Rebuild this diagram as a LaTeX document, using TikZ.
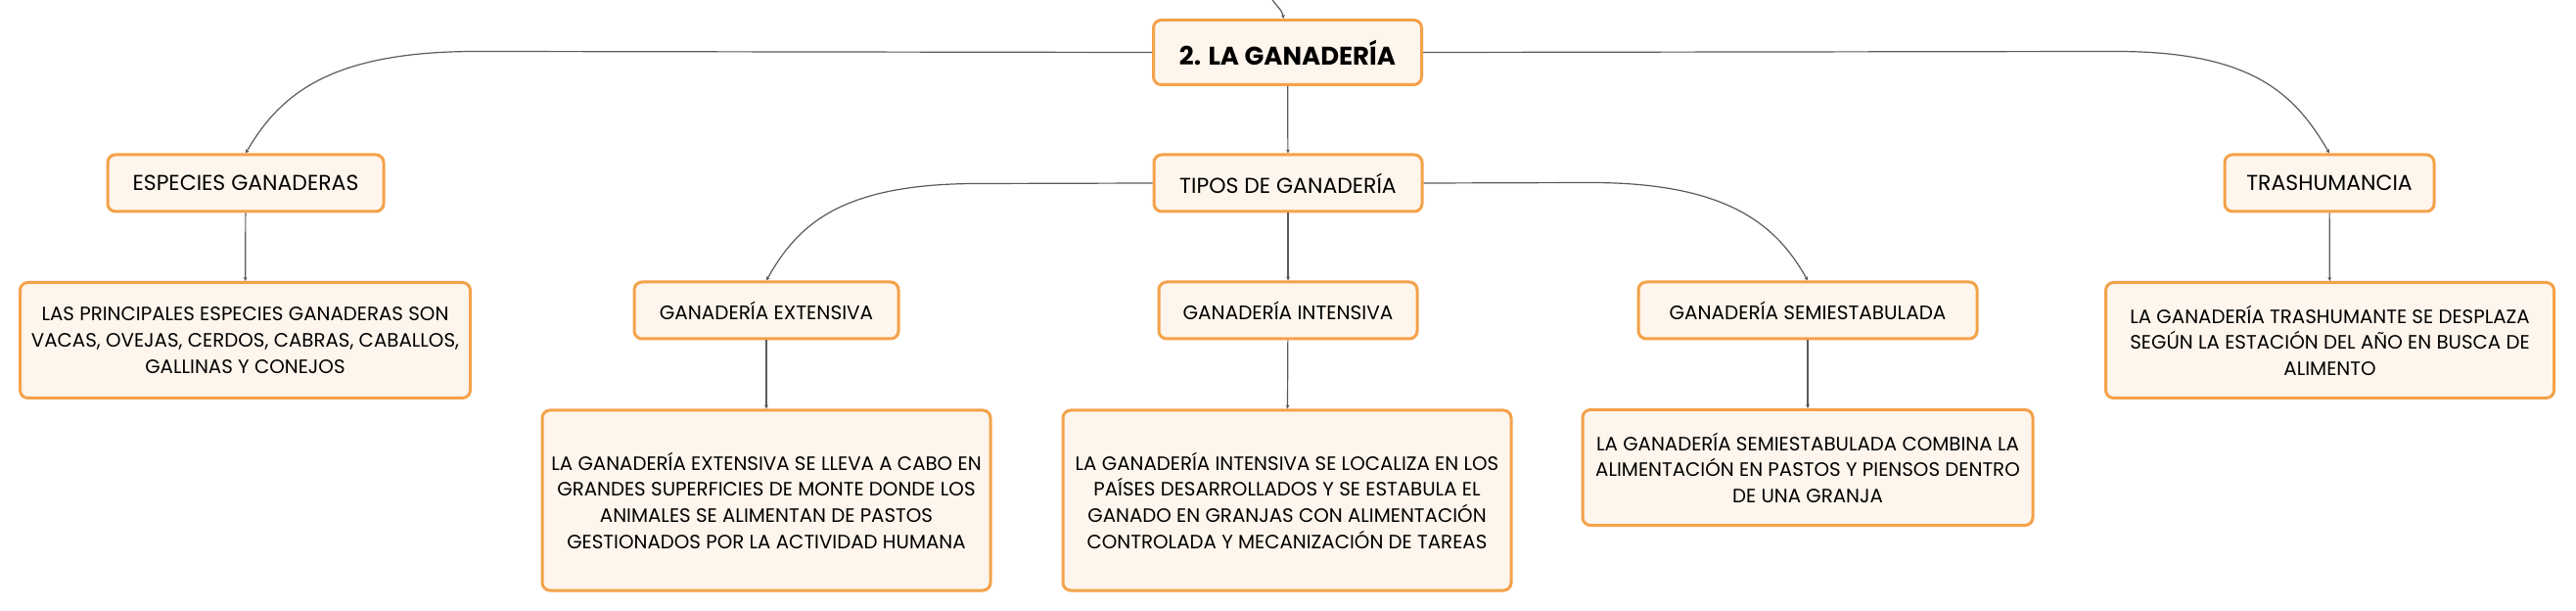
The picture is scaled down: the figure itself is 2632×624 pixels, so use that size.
\documentclass[tikz,border=0pt]{standalone}
\usepackage{fontspec}
\setmainfont{Poppins}
\usepackage{xcolor}
\usepackage{tikz}
\usetikzlibrary{arrows.meta,positioning,calc}

\definecolor{boxline}{HTML}{F4A24A}
\definecolor{boxfill}{HTML}{FEF5EC}
\definecolor{linkgray}{HTML}{5A5A5A}

\begin{document}
\begin{tikzpicture}[x=0.5pt,y=-0.5pt,
  topic/.style={draw=boxline,fill=boxfill,line width=1.5pt,rounded corners=4pt,
    inner sep=2pt,align=center,font=\fontsize{11}{13}\selectfont},
  note/.style={topic,font=\fontsize{9.9}{13.3}\selectfont},
  link/.style={draw=linkgray,line width=0.6pt,-{Stealth[length=2pt,width=2pt]}}]
  \useasboundingbox (0,0) rectangle (2632,624);
  % main topic
  \node [topic,minimum width=137pt,minimum height=33pt,
         font=\fontsize{13}{15}\selectfont\bfseries] (root) at (1315.5,53.5) {2. LA GANADERÍA};
  \coordinate (up) at (1298,-4);
  \draw [link] (up) to[out=-65,in=100] ([xshift=-2pt]root.north);
  % second level
  \node [topic,minimum width=141pt,minimum height=29pt] (esp)   at (251,187)  {ESPECIES GANADERAS};
  \node [topic,minimum width=137pt,minimum height=29pt] (tipos) at (1316,187) {TIPOS DE GANADERÍA};
  \node [topic,minimum width=107pt,minimum height=29pt] (trash) at (2380,187) {TRASHUMANCIA};
  % types
  \node [topic,minimum width=135pt,minimum height=29pt,font=\fontsize{10}{12}\selectfont] (ext)  at (783,317)  {GANADERÍA EXTENSIVA};
  \node [topic,minimum width=132pt,minimum height=29pt,font=\fontsize{10}{12}\selectfont] (int)  at (1316,317) {GANADERÍA INTENSIVA};
  \node [topic,minimum width=173pt,minimum height=29pt,font=\fontsize{10}{12}\selectfont] (semi) at (1847,317) {GANADERÍA SEMIESTABULADA};
  % notes
  \node [note,minimum width=230pt,minimum height=59pt] (espd) at (250.5,347.5)
    {LAS PRINCIPALES ESPECIES GANADERAS SON\\VACAS, OVEJAS, CERDOS, CABRAS, CABALLOS,\\GALLINAS Y CONEJOS};
  \node [note,minimum width=229pt,minimum height=92pt] (extd) at (783,511)
    {LA GANADERÍA EXTENSIVA SE LLEVA A CABO EN\\GRANDES SUPERFICIES DE MONTE DONDE LOS\\ANIMALES SE ALIMENTAN DE PASTOS\\GESTIONADOS POR LA ACTIVIDAD HUMANA};
  \node [note,minimum width=229pt,minimum height=92pt] (intd) at (1315,511)
    {LA GANADERÍA INTENSIVA SE LOCALIZA EN LOS\\PAÍSES DESARROLLADOS Y SE ESTABULA EL\\GANADO EN GRANJAS CON ALIMENTACIÓN\\CONTROLADA Y MECANIZACIÓN DE TAREAS};
  \node [note,minimum width=230pt,minimum height=59pt] (semid) at (1847,477.5)
    {LA GANADERÍA SEMIESTABULADA COMBINA LA\\ALIMENTACIÓN EN PASTOS Y PIENSOS DENTRO\\DE UNA GRANJA};
  \node [note,minimum width=229pt,minimum height=59pt] (trashd) at (2380.5,347.5)
    {LA GANADERÍA TRASHUMANTE SE DESPLAZA\\SEGÚN LA ESTACIÓN DEL AÑO EN BUSCA DE\\ALIMENTO};
  % connectors
  \draw [link] (root.west) -- ($(esp.north)+(236,-104)$)
        .. controls +(-150,0) and +(35,-60) .. (esp.north);
  \draw [link] (root.east) -- ($(trash.north)+(-218,-104)$)
        .. controls +(140,0) and +(-35,-60) .. (trash.north);
  \draw [link] (root) -- (tipos);
  \draw [link] (tipos.west) -- ($(ext.north)+(216,-99)$)
        .. controls +(-140,0) and +(32,-57) .. (ext.north);
  \draw [link] (tipos.east) -- ($(semi.north)+(-222,-100)$)
        .. controls +(140,0) and +(-32,-57) .. (semi.north);
  \draw [link] (tipos) -- (int);
  \draw [link] (esp) -- (espd);
  \draw [link] (trash) -- (trashd);
  \draw [link] (ext) -- (extd);
  \draw [link] (int) -- (intd);
  \draw [link] (semi) -- (semid);
\end{tikzpicture}
\end{document}
